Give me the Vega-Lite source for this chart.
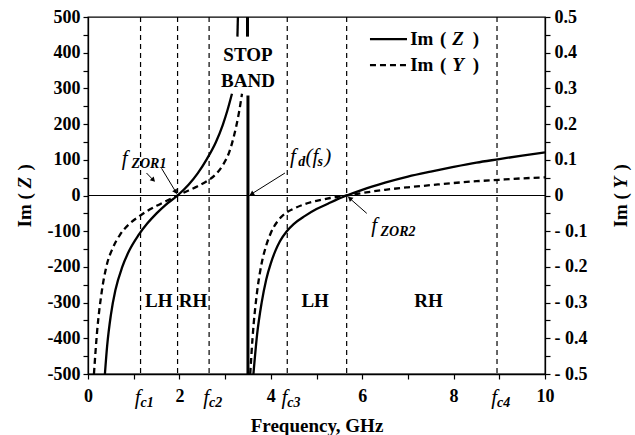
{
  "$schema": "https://vega.github.io/schema/vega-lite/v6.json",
  "width": 457,
  "height": 357,
  "autosize": {"type": "none"},
  "padding": {"left": 88, "top": 17, "right": 90, "bottom": 61},
  "background": "white",
  "view": {"stroke": "black", "strokeWidth": 1.3},
  "config": {
    "font": "Liberation Serif",
    "axis": {
      "grid": false,
      "domainColor": "black",
      "domainWidth": 1.3,
      "tickColor": "black",
      "tickWidth": 1.2,
      "tickSize": 5,
      "labelFont": "Liberation Serif",
      "labelFontWeight": "bold",
      "labelFontSize": 18,
      "labelColor": "black",
      "titleFont": "Liberation Serif",
      "titleFontWeight": "bold",
      "titleFontSize": 19,
      "titleColor": "black",
      "labelFlush": false,
      "labelOverlap": false
    },
    "text": {"font": "Liberation Serif", "color": "black"}
  },
  "datasets": {
    "zcurve": [
      {"x": 0.37, "v": -500, "seg": "a"}, {"x": 0.42, "v": -420, "seg": "a"}, {"x": 0.5, "v": -335, "seg": "a"},
      {"x": 0.6, "v": -265, "seg": "a"}, {"x": 0.75, "v": -200, "seg": "a"}, {"x": 0.9, "v": -155, "seg": "a"},
      {"x": 1.1, "v": -112, "seg": "a"}, {"x": 1.3, "v": -78, "seg": "a"}, {"x": 1.5, "v": -50, "seg": "a"},
      {"x": 1.7, "v": -26, "seg": "a"}, {"x": 1.96, "v": 0, "seg": "a"}, {"x": 2.2, "v": 30, "seg": "a"},
      {"x": 2.4, "v": 62, "seg": "a"}, {"x": 2.6, "v": 102, "seg": "a"}, {"x": 2.8, "v": 150, "seg": "a"},
      {"x": 2.95, "v": 198, "seg": "a"}, {"x": 3.05, "v": 238, "seg": "a"}, {"x": 3.15, "v": 285, "seg": "a"},
      {"x": 3.27, "v": 445, "seg": "b"}, {"x": 3.28, "v": 500, "seg": "b"},
      {"x": 3.62, "v": -500, "seg": "c"}, {"x": 3.7, "v": -390, "seg": "c"}, {"x": 3.8, "v": -300, "seg": "c"},
      {"x": 3.9, "v": -235, "seg": "c"}, {"x": 4.0, "v": -190, "seg": "c"}, {"x": 4.1, "v": -155, "seg": "c"},
      {"x": 4.2, "v": -128, "seg": "c"}, {"x": 4.35, "v": -100, "seg": "c"}, {"x": 4.5, "v": -80, "seg": "c"},
      {"x": 4.75, "v": -57, "seg": "c"}, {"x": 5.0, "v": -38, "seg": "c"}, {"x": 5.25, "v": -23, "seg": "c"},
      {"x": 5.45, "v": -11, "seg": "c"}, {"x": 5.66, "v": 0, "seg": "c"}, {"x": 6.0, "v": 16, "seg": "c"},
      {"x": 6.5, "v": 36, "seg": "c"}, {"x": 7.0, "v": 53, "seg": "c"}, {"x": 7.5, "v": 67, "seg": "c"},
      {"x": 8.0, "v": 80, "seg": "c"}, {"x": 8.5, "v": 92, "seg": "c"}, {"x": 9.0, "v": 102, "seg": "c"},
      {"x": 9.5, "v": 112, "seg": "c"}, {"x": 10, "v": 121, "seg": "c"}
    ],
    "ycurve": [
      {"x": 0.13, "v": -0.5, "seg": "a"}, {"x": 0.2, "v": -0.38, "seg": "a"}, {"x": 0.3, "v": -0.27, "seg": "a"},
      {"x": 0.4, "v": -0.2, "seg": "a"}, {"x": 0.55, "v": -0.145, "seg": "a"}, {"x": 0.7, "v": -0.11, "seg": "a"},
      {"x": 0.9, "v": -0.08, "seg": "a"}, {"x": 1.1, "v": -0.06, "seg": "a"}, {"x": 1.3, "v": -0.043, "seg": "a"},
      {"x": 1.5, "v": -0.029, "seg": "a"}, {"x": 1.7, "v": -0.016, "seg": "a"}, {"x": 1.96, "v": 0, "seg": "a"},
      {"x": 2.2, "v": 0.014, "seg": "a"}, {"x": 2.4, "v": 0.026, "seg": "a"}, {"x": 2.6, "v": 0.04, "seg": "a"},
      {"x": 2.8, "v": 0.06, "seg": "a"}, {"x": 2.95, "v": 0.085, "seg": "a"}, {"x": 3.1, "v": 0.125, "seg": "a"},
      {"x": 3.2, "v": 0.17, "seg": "a"}, {"x": 3.3, "v": 0.23, "seg": "a"}, {"x": 3.37, "v": 0.285, "seg": "a"},
      {"x": 3.55, "v": -0.5, "seg": "b"}, {"x": 3.6, "v": -0.4, "seg": "b"}, {"x": 3.7, "v": -0.27, "seg": "b"},
      {"x": 3.8, "v": -0.19, "seg": "b"}, {"x": 3.9, "v": -0.14, "seg": "b"}, {"x": 4.0, "v": -0.105, "seg": "b"},
      {"x": 4.15, "v": -0.072, "seg": "b"}, {"x": 4.3, "v": -0.052, "seg": "b"}, {"x": 4.5, "v": -0.037, "seg": "b"},
      {"x": 4.75, "v": -0.024, "seg": "b"}, {"x": 5.0, "v": -0.015, "seg": "b"}, {"x": 5.3, "v": -0.007, "seg": "b"},
      {"x": 5.66, "v": 0, "seg": "b"}, {"x": 6.0, "v": 0.007, "seg": "b"}, {"x": 6.5, "v": 0.016, "seg": "b"},
      {"x": 7.0, "v": 0.023, "seg": "b"}, {"x": 7.5, "v": 0.029, "seg": "b"}, {"x": 8.0, "v": 0.035, "seg": "b"},
      {"x": 8.5, "v": 0.04, "seg": "b"}, {"x": 9.0, "v": 0.044, "seg": "b"}, {"x": 9.5, "v": 0.048, "seg": "b"},
      {"x": 10, "v": 0.051, "seg": "b"}
    ],
    "vlines": [{"x": 1.15}, {"x": 1.96}, {"x": 2.65}, {"x": 4.36}, {"x": 5.66}, {"x": 8.95}],
    "stoprule": [{"x": 3.5, "v": 280, "v2": -500}, {"x": 3.49, "v": 500, "v2": 445}],
    "labels": [
      {"x": 3.5, "v": 394, "t": "STOP"}, {"x": 3.5, "v": 320, "t": "BAND"},
      {"x": 1.55, "v": -295, "t": "LH"}, {"x": 2.3, "v": -295, "t": "RH"},
      {"x": 4.97, "v": -295, "t": "LH"}, {"x": 7.45, "v": -295, "t": "RH"}
    ],
    "fc": [
      {"x": 1.15, "f": "f", "s": "c1"}, {"x": 2.65, "f": "f", "s": "c2"},
      {"x": 4.36, "f": "f", "s": "c3"}, {"x": 8.95, "f": "f", "s": "c4"}
    ],
    "italicMain": [
      {"x": 0.74, "v": 85, "t": "f"}, {"x": 4.42, "v": 92, "t": "f"}, {"x": 4.76, "v": 92, "t": "(f"},
      {"x": 5.17, "v": 92, "t": ")"}, {"x": 6.2, "v": -103, "t": "f"}
    ],
    "italicSub": [
      {"x": 0.95, "v": 78, "t": "ZOR1"}, {"x": 4.6, "v": 82, "t": "d"}, {"x": 5.02, "v": 82, "t": "s"},
      {"x": 6.4, "v": -113, "t": "ZOR2"}
    ],
    "arrows": [
      {"x": 1.28, "v": 63, "x2": 1.43, "v2": 43},
      {"x": 1.61, "v": 76, "x2": 1.94, "v2": 6},
      {"x": 4.31, "v": 63, "x2": 3.55, "v2": 2},
      {"x": 6.1, "v": -50, "x2": 5.7, "v2": -5}
    ],
    "legendLines": [
      {"x": 6.17, "x2": 6.98, "v": 438, "kind": "Z"},
      {"x": 6.17, "x2": 6.98, "v": 365, "kind": "Y"}
    ],
    "legendText": [
      {"x": 7.05, "v": 438, "t": "Im"}, {"x": 7.7, "v": 438, "t": "("}, {"x": 8.42, "v": 438, "t": ")"},
      {"x": 7.05, "v": 365, "t": "Im"}, {"x": 7.7, "v": 365, "t": "("}, {"x": 8.42, "v": 365, "t": ")"}
    ],
    "legendItalic": [
      {"x": 7.97, "v": 438, "t": "Z"}, {"x": 7.97, "v": 365, "t": "Y"}
    ]
  },
  "layer": [
    {
      "data": {"name": "zcurve"},
      "mark": {"type": "line", "color": "black", "strokeWidth": 2.3, "interpolate": "monotone"},
      "encoding": {
        "x": {"field": "x", "type": "quantitative", "scale": {"domain": [0, 10], "nice": false},
          "axis": {"orient": "bottom", "values": [0, 1, 2, 3, 4, 5, 6, 7, 8, 9, 10], "labelExpr": "datum.value % 2 === 0 ? '' + datum.value : ''", "labelPadding": 8, "title": "Frequency, GHz", "titlePadding": 11}},
        "y": {"field": "v", "type": "quantitative", "scale": {"domain": [-500, 500], "nice": false},
          "axis": {"orient": "left", "title": null, "values": [-500, -450, -400, -350, -300, -250, -200, -150, -100, -50, 0, 50, 100, 150, 200, 250, 300, 350, 400, 450, 500],
            "labelExpr": "datum.value % 100 === 0 ? '' + datum.value : ''", "labelPadding": 3}},
        "detail": {"field": "seg"}
      }
    },
    {
      "data": {"name": "vlines"},
      "mark": {"type": "rule", "strokeDash": [5, 4], "strokeWidth": 1.2, "color": "black"},
      "encoding": {
        "x": {"field": "x", "type": "quantitative", "scale": {"domain": [0, 10], "nice": false}}
      }
    },
    {
      "data": {"values": [{"v": 0}]},
      "mark": {"type": "rule", "strokeWidth": 1.2, "color": "black"},
      "encoding": {
        "y": {"field": "v", "type": "quantitative", "scale": {"domain": [-500, 500], "nice": false}, "axis": null}
      }
    },
    {
      "data": {"name": "ycurve"},
      "mark": {"type": "line", "color": "black", "strokeWidth": 2.3, "strokeDash": [6, 4], "interpolate": "monotone"},
      "encoding": {
        "x": {"field": "x", "type": "quantitative", "scale": {"domain": [0, 10], "nice": false}},
        "y": {"field": "v", "type": "quantitative", "scale": {"domain": [-0.5, 0.5], "nice": false},
          "axis": {"orient": "right", "title": null, "labelPadding": 4,
            "values": [-0.5, -0.45, -0.4, -0.35, -0.3, -0.25, -0.2, -0.15, -0.1, -0.05, 0, 0.05, 0.1, 0.15, 0.2, 0.25, 0.3, 0.35, 0.4, 0.45, 0.5],
            "labelExpr": "abs(datum.value * 10 - round(datum.value * 10)) > 0.01 ? '' : (datum.value < 0 ? '- ' + format(-datum.value, '.1f') : (datum.value === 0 ? '0' : format(datum.value, '.1f')))"}},
        "detail": {"field": "seg"}
      }
    },
    {
      "data": {"name": "stoprule"},
      "mark": {"type": "rule", "strokeWidth": 3, "color": "black"},
      "encoding": {
        "x": {"field": "x", "type": "quantitative", "scale": {"domain": [0, 10], "nice": false}},
        "y": {"field": "v", "type": "quantitative", "scale": {"domain": [-500, 500], "nice": false}, "axis": null},
        "y2": {"field": "v2"}
      }
    },
    {
      "data": {"name": "arrows"},
      "mark": {"type": "rule", "strokeWidth": 1, "color": "black"},
      "encoding": {
        "x": {"field": "x", "type": "quantitative", "scale": {"domain": [0, 10], "nice": false}},
        "y": {"field": "v", "type": "quantitative", "scale": {"domain": [-500, 500], "nice": false}, "axis": null},
        "x2": {"field": "x2"},
        "y2": {"field": "v2"}
      }
    },
    {
      "data": {"values": [{"x": 1.43, "v": 43}]},
      "mark": {"type": "point", "shape": "triangle-up", "filled": true, "color": "black", "size": 30, "angle": 136, "opacity": 1},
      "encoding": {
        "x": {"field": "x", "type": "quantitative", "scale": {"domain": [0, 10], "nice": false}},
        "y": {"field": "v", "type": "quantitative", "scale": {"domain": [-500, 500], "nice": false}, "axis": null}
      }
    },
    {
      "data": {"values": [{"x": 1.92, "v": 10}]},
      "mark": {"type": "point", "shape": "triangle-up", "filled": true, "color": "black", "size": 30, "angle": 148, "opacity": 1},
      "encoding": {
        "x": {"field": "x", "type": "quantitative", "scale": {"domain": [0, 10], "nice": false}},
        "y": {"field": "v", "type": "quantitative", "scale": {"domain": [-500, 500], "nice": false}, "axis": null}
      }
    },
    {
      "data": {"values": [{"x": 3.58, "v": 4}]},
      "mark": {"type": "point", "shape": "triangle-up", "filled": true, "color": "black", "size": 30, "angle": 238, "opacity": 1},
      "encoding": {
        "x": {"field": "x", "type": "quantitative", "scale": {"domain": [0, 10], "nice": false}},
        "y": {"field": "v", "type": "quantitative", "scale": {"domain": [-500, 500], "nice": false}, "axis": null}
      }
    },
    {
      "data": {"values": [{"x": 5.73, "v": -8}]},
      "mark": {"type": "point", "shape": "triangle-up", "filled": true, "color": "black", "size": 30, "angle": 311, "opacity": 1},
      "encoding": {
        "x": {"field": "x", "type": "quantitative", "scale": {"domain": [0, 10], "nice": false}},
        "y": {"field": "v", "type": "quantitative", "scale": {"domain": [-500, 500], "nice": false}, "axis": null}
      }
    },
    {
      "data": {"name": "labels"},
      "mark": {"type": "text", "fontSize": 19, "fontWeight": "bold", "align": "center", "baseline": "middle"},
      "encoding": {
        "x": {"field": "x", "type": "quantitative", "scale": {"domain": [0, 10], "nice": false}},
        "y": {"field": "v", "type": "quantitative", "scale": {"domain": [-500, 500], "nice": false}, "axis": null},
        "text": {"field": "t"}
      }
    },
    {
      "data": {"name": "italicMain"},
      "mark": {"type": "text", "fontSize": 21, "fontStyle": "italic", "align": "left", "baseline": "alphabetic"},
      "encoding": {
        "x": {"field": "x", "type": "quantitative", "scale": {"domain": [0, 10], "nice": false}},
        "y": {"field": "v", "type": "quantitative", "scale": {"domain": [-500, 500], "nice": false}, "axis": null},
        "text": {"field": "t"}
      }
    },
    {
      "data": {"name": "italicSub"},
      "mark": {"type": "text", "fontSize": 14, "fontStyle": "italic", "fontWeight": "bold", "align": "left", "baseline": "alphabetic"},
      "encoding": {
        "x": {"field": "x", "type": "quantitative", "scale": {"domain": [0, 10], "nice": false}},
        "y": {"field": "v", "type": "quantitative", "scale": {"domain": [-500, 500], "nice": false}, "axis": null},
        "text": {"field": "t"}
      }
    },
    {
      "data": {"name": "fc"},
      "mark": {"type": "text", "fontSize": 21, "fontStyle": "italic", "align": "right", "baseline": "alphabetic", "dy": 30},
      "encoding": {
        "x": {"field": "x", "type": "quantitative", "scale": {"domain": [0, 10], "nice": false}},
        "y": {"datum": -500, "type": "quantitative", "scale": {"domain": [-500, 500], "nice": false}, "axis": null},
        "text": {"field": "f"}
      }
    },
    {
      "data": {"name": "fc"},
      "mark": {"type": "text", "fontSize": 14, "fontStyle": "italic", "fontWeight": "bold", "align": "left", "baseline": "alphabetic", "dy": 33},
      "encoding": {
        "x": {"field": "x", "type": "quantitative", "scale": {"domain": [0, 10], "nice": false}},
        "y": {"datum": -500, "type": "quantitative", "scale": {"domain": [-500, 500], "nice": false}, "axis": null},
        "text": {"field": "s"}
      }
    },
    {
      "data": {"name": "legendLines"},
      "transform": [{"filter": "datum.kind === 'Z'"}],
      "mark": {"type": "rule", "strokeWidth": 2.3, "color": "black"},
      "encoding": {
        "x": {"field": "x", "type": "quantitative", "scale": {"domain": [0, 10], "nice": false}},
        "x2": {"field": "x2"},
        "y": {"field": "v", "type": "quantitative", "scale": {"domain": [-500, 500], "nice": false}, "axis": null}
      }
    },
    {
      "data": {"name": "legendLines"},
      "transform": [{"filter": "datum.kind === 'Y'"}],
      "mark": {"type": "rule", "strokeWidth": 2.3, "color": "black", "strokeDash": [6, 4]},
      "encoding": {
        "x": {"field": "x", "type": "quantitative", "scale": {"domain": [0, 10], "nice": false}},
        "x2": {"field": "x2"},
        "y": {"field": "v", "type": "quantitative", "scale": {"domain": [-500, 500], "nice": false}, "axis": null}
      }
    },
    {
      "data": {"name": "legendText"},
      "mark": {"type": "text", "fontSize": 19, "fontWeight": "bold", "align": "left", "baseline": "middle"},
      "encoding": {
        "x": {"field": "x", "type": "quantitative", "scale": {"domain": [0, 10], "nice": false}},
        "y": {"field": "v", "type": "quantitative", "scale": {"domain": [-500, 500], "nice": false}, "axis": null},
        "text": {"field": "t"}
      }
    },
    {
      "data": {"name": "legendItalic"},
      "mark": {"type": "text", "fontSize": 19, "fontWeight": "bold", "fontStyle": "italic", "align": "left", "baseline": "middle"},
      "encoding": {
        "x": {"field": "x", "type": "quantitative", "scale": {"domain": [0, 10], "nice": false}},
        "y": {"field": "v", "type": "quantitative", "scale": {"domain": [-500, 500], "nice": false}, "axis": null},
        "text": {"field": "t"}
      }
    },
    {
      "data": {"values": [{"x": 0, "v": 0}]},
      "mark": {"type": "text", "text": "Im", "fontSize": 19, "fontWeight": "bold", "align": "left", "baseline": "middle", "angle": 270, "dx": -32, "dy": -63},
      "encoding": {
        "x": {"field": "x", "type": "quantitative", "scale": {"domain": [0, 10], "nice": false}},
        "y": {"field": "v", "type": "quantitative", "scale": {"domain": [-500, 500], "nice": false}, "axis": null}
      }
    },
    {
      "data": {"values": [{"x": 0, "v": 0}]},
      "mark": {"type": "text", "text": "(", "fontSize": 19, "fontWeight": "bold", "align": "left", "baseline": "middle", "angle": 270, "dx": -4, "dy": -63},
      "encoding": {
        "x": {"field": "x", "type": "quantitative", "scale": {"domain": [0, 10], "nice": false}},
        "y": {"field": "v", "type": "quantitative", "scale": {"domain": [-500, 500], "nice": false}, "axis": null}
      }
    },
    {
      "data": {"values": [{"x": 0, "v": 0}]},
      "mark": {"type": "text", "text": "Z", "fontSize": 19, "fontWeight": "bold", "fontStyle": "italic", "align": "left", "baseline": "middle", "angle": 270, "dx": 7, "dy": -63},
      "encoding": {
        "x": {"field": "x", "type": "quantitative", "scale": {"domain": [0, 10], "nice": false}},
        "y": {"field": "v", "type": "quantitative", "scale": {"domain": [-500, 500], "nice": false}, "axis": null}
      }
    },
    {
      "data": {"values": [{"x": 0, "v": 0}]},
      "mark": {"type": "text", "text": ")", "fontSize": 19, "fontWeight": "bold", "align": "left", "baseline": "middle", "angle": 270, "dx": 25, "dy": -63},
      "encoding": {
        "x": {"field": "x", "type": "quantitative", "scale": {"domain": [0, 10], "nice": false}},
        "y": {"field": "v", "type": "quantitative", "scale": {"domain": [-500, 500], "nice": false}, "axis": null}
      }
    },
    {
      "data": {"values": [{"x": 10, "v": 0}]},
      "mark": {"type": "text", "text": "Im", "fontSize": 19, "fontWeight": "bold", "align": "left", "baseline": "middle", "angle": 270, "dx": -32, "dy": 76},
      "encoding": {
        "x": {"field": "x", "type": "quantitative", "scale": {"domain": [0, 10], "nice": false}},
        "y": {"field": "v", "type": "quantitative", "scale": {"domain": [-500, 500], "nice": false}, "axis": null}
      }
    },
    {
      "data": {"values": [{"x": 10, "v": 0}]},
      "mark": {"type": "text", "text": "(", "fontSize": 19, "fontWeight": "bold", "align": "left", "baseline": "middle", "angle": 270, "dx": -4, "dy": 76},
      "encoding": {
        "x": {"field": "x", "type": "quantitative", "scale": {"domain": [0, 10], "nice": false}},
        "y": {"field": "v", "type": "quantitative", "scale": {"domain": [-500, 500], "nice": false}, "axis": null}
      }
    },
    {
      "data": {"values": [{"x": 10, "v": 0}]},
      "mark": {"type": "text", "text": "Y", "fontSize": 19, "fontWeight": "bold", "fontStyle": "italic", "align": "left", "baseline": "middle", "angle": 270, "dx": 7, "dy": 76},
      "encoding": {
        "x": {"field": "x", "type": "quantitative", "scale": {"domain": [0, 10], "nice": false}},
        "y": {"field": "v", "type": "quantitative", "scale": {"domain": [-500, 500], "nice": false}, "axis": null}
      }
    },
    {
      "data": {"values": [{"x": 10, "v": 0}]},
      "mark": {"type": "text", "text": ")", "fontSize": 19, "fontWeight": "bold", "align": "left", "baseline": "middle", "angle": 270, "dx": 25, "dy": 76},
      "encoding": {
        "x": {"field": "x", "type": "quantitative", "scale": {"domain": [0, 10], "nice": false}},
        "y": {"field": "v", "type": "quantitative", "scale": {"domain": [-500, 500], "nice": false}, "axis": null}
      }
    }
  ],
  "resolve": {"scale": {"y": "independent"}}
}
